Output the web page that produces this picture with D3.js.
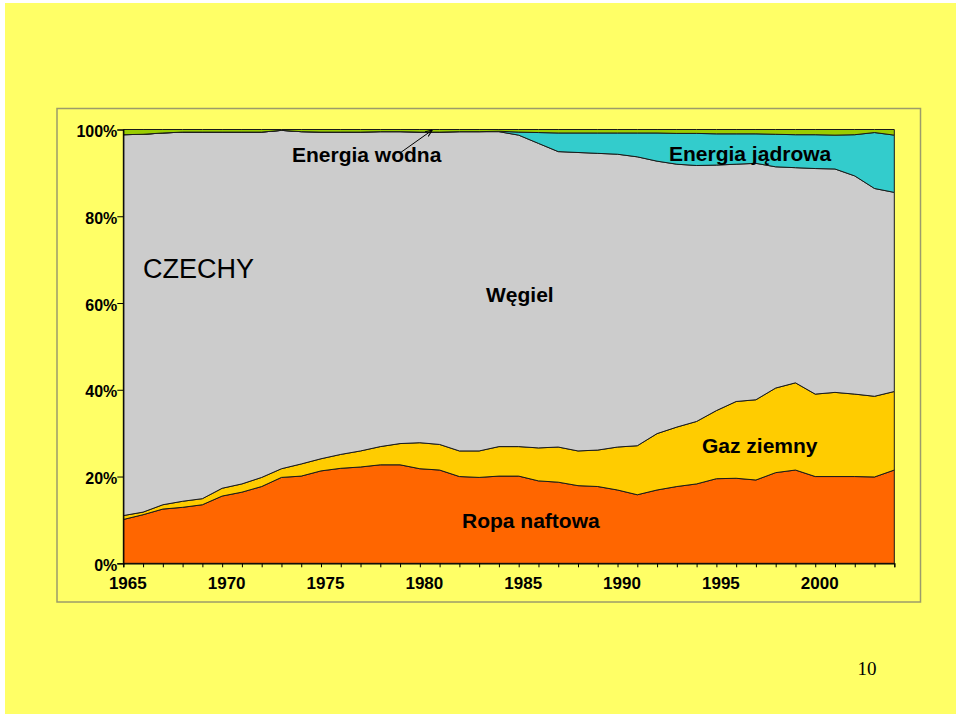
<!DOCTYPE html>
<html>
<head>
<meta charset="utf-8">
<script src="https://cdn.jsdelivr.net/npm/d3@7"></script>
<style>
  body { margin: 0; background: #ffffff; }
  text { font-family: Arial, "Liberation Sans", sans-serif; }
</style>
</head>
<body>
<div class="chart"></div>
<script>
// years 1965 - 2004
const years = [1965,1966,1967,1968,1969,1970,1971,1972,1973,1974,
               1975,1976,1977,1978,1979,1980,1981,1982,1983,1984,
               1985,1986,1987,1988,1989,1990,1991,1992,1993,1994,
               1995,1996,1997,1998,1999,2000,2001,2002,2003,2004];

// share of primary energy, %
const ropa = [10.1,11.2,12.5,12.9,13.5,15.5,16.4,17.7,19.8,20.1,
              21.3,21.9,22.2,22.7,22.7,21.8,21.5,20.0,19.8,20.1,
              20.1,19.0,18.7,17.9,17.7,16.9,15.8,16.9,17.7,18.3,
              19.5,19.6,19.2,20.9,21.5,20.0,20.0,20.0,19.9,21.5];
const gaz = [0.9,0.6,1.0,1.4,1.4,1.8,1.9,2.1,2.0,2.8,
             2.8,3.2,3.7,4.2,4.9,6.0,5.9,5.9,6.1,6.8,
             6.8,7.6,8.1,8.0,8.4,9.9,11.3,13.0,13.7,14.4,
             15.7,17.7,18.5,19.5,20.1,19.0,19.4,19.0,18.6,18.1];
const wegiel = [87.8,87.1,85.7,85.1,84.5,82.1,81.1,79.6,78.0,76.6,
                75.3,74.3,73.5,72.6,71.9,71.6,72.0,73.6,73.6,72.6,
                71.8,70.2,68.1,68.8,68.4,67.5,66.6,62.8,60.6,59.0,
                56.6,54.7,54.5,51.0,49.6,52.0,51.5,50.3,47.9,45.9];
const jadrowa = [0,0,0,0,0,0,0,0,0,0,
                 0,0,0,0,0,0,0,0,0,0.1,
                 0.7,2.5,4.3,4.5,4.7,4.9,5.5,6.5,7.1,7.4,
                 7.2,7.0,6.8,7.5,7.6,7.8,7.8,9.5,12.9,13.2];
const wodna = [1.2,1.1,0.8,0.6,0.6,0.6,0.6,0.6,0.2,0.5,
               0.6,0.6,0.6,0.5,0.5,0.6,0.6,0.5,0.5,0.4,
               0.6,0.7,0.8,0.8,0.8,0.8,0.8,0.8,0.9,0.9,
               1.0,1.0,1.0,1.1,1.2,1.2,1.3,1.2,0.7,1.3];

const yearLabels = ["1965","1970","1975","1980","1985","1990","1995","2000"];
const pctTicks = [0, 20, 40, 60, 80, 100];

const keys = ["ropa", "gaz", "wegiel", "jadrowa", "wodna"];
const colors = {ropa:"#FF6600", gaz:"#FFCC00", wegiel:"#CCCCCC", jadrowa:"#33CCCC", wodna:"#99CC00"};

const table = years.map((y, i) => ({
    year: y, ropa: ropa[i], gaz: gaz[i], wegiel: wegiel[i], jadrowa: jadrowa[i], wodna: wodna[i]
}));

const W = 960, H = 716;
const plot = {left: 123.3, right: 894.3, top: 129.5, bottom: 563.3};

const svg = d3.select('.chart')
    .append('svg')
    .attr('width', W)
    .attr('height', H);

// slide background
svg.append('rect')
    .attr('x', 5).attr('y', 3)
    .attr('width', 951).attr('height', 711)
    .attr('fill', '#FFFF66');

// chart frame
svg.append('rect')
    .attr('x', 57).attr('y', 108.5)
    .attr('width', 863.5).attr('height', 493.5)
    .attr('fill', '#FFFF66')
    .attr('stroke', '#9C9C6A')
    .attr('stroke-width', 1.5);

const xScale = d3.scaleLinear()
    .domain([years[0], years[years.length - 1]])
    .range([plot.left, plot.right]);

const yScale = d3.scaleLinear()
    .domain([0, 100])
    .range([plot.bottom, plot.top]);

const stacked = d3.stack().keys(keys)(table);

const area = d3.area()
    .x(d => xScale(d.data.year))
    .y0(d => yScale(d[0]))
    .y1(d => yScale(d[1]));

svg.append('g')
    .selectAll('path')
    .data(stacked)
    .join('path')
    .attr('d', area)
    .attr('fill', d => colors[d.key])
    .attr('stroke', '#1a1a1a')
    .attr('stroke-width', 1)
    .attr('stroke-linejoin', 'round');

// x axis
const xAxis = d3.axisBottom(xScale)
    .tickValues(years)
    .tickSize(4)
    .tickFormat(d => yearLabels.includes(String(d)) ? String(d) : "");

const gx = svg.append('g')
    .attr('class', 'axis x-axis')
    .attr('transform', 'translate(0,' + plot.bottom + ')')
    .call(xAxis);
gx.select('.domain').attr('stroke', '#000').attr('stroke-width', 1.2);
gx.selectAll('.tick line').attr('stroke', '#000');
gx.selectAll('.tick text')
    .attr('dx', 4)
    .attr('y', 13)
    .attr('dy', '0.72em')
    .style('font-size', '17px')
    .style('font-weight', 'bold')
    .attr('fill', '#000');

// y axis
const yAxis = d3.axisLeft(yScale)
    .tickValues(pctTicks)
    .tickSize(6)
    .tickFormat(d => d + "%");

const gy = svg.append('g')
    .attr('class', 'axis y-axis')
    .attr('transform', 'translate(' + plot.left + ',0)')
    .call(yAxis);
gy.select('.domain').attr('stroke', '#000').attr('stroke-width', 1.2);
gy.selectAll('.tick line').attr('stroke', '#000');
gy.selectAll('.tick text')
    .attr('x', -6)
    .attr('dy', '0.45em')
    .style('font-size', '16px')
    .style('font-weight', 'bold')
    .attr('fill', '#000');

// labels
const labels = [
    {t: "Energia wodna", x: 292, y: 162, s: 21, w: 'bold'},
    {t: "Energia jądrowa", x: 669, y: 161, s: 21, w: 'bold'},
    {t: "CZECHY", x: 143, y: 278, s: 27, w: 'normal'},
    {t: "Węgiel", x: 486, y: 302, s: 21, w: 'bold'},
    {t: "Gaz ziemny", x: 702, y: 453, s: 21, w: 'bold'},
    {t: "Ropa naftowa", x: 462, y: 528, s: 21, w: 'bold'}
];
svg.append('g')
    .selectAll('text')
    .data(labels)
    .join('text')
    .attr('x', d => d.x)
    .attr('y', d => d.y)
    .style('font-size', d => d.s + 'px')
    .style('font-weight', d => d.w)
    .attr('fill', '#000')
    .text(d => d.t);

// arrow to the hydro band
svg.append('defs').append('marker')
    .attr('id', 'arr')
    .attr('viewBox', '0 0 10 10')
    .attr('refX', 9).attr('refY', 5)
    .attr('markerWidth', 7).attr('markerHeight', 7)
    .attr('orient', 'auto')
    .append('path')
    .attr('d', 'M0,1 L10,5 L0,9')
    .attr('fill', 'none')
    .attr('stroke', '#000')
    .attr('stroke-width', 1.5);

svg.append('line')
    .attr('x1', 400).attr('y1', 153)
    .attr('x2', xScale(1980.6)).attr('y2', yScale(100) + 1)
    .attr('stroke', '#000')
    .attr('stroke-width', 1)
    .attr('marker-end', 'url(#arr)');

// page number
svg.append('text')
    .attr('x', 867).attr('y', 675)
    .attr('text-anchor', 'middle')
    .style('font-family', '"Liberation Serif", "Times New Roman", serif')
    .style('font-size', '19px')
    .attr('fill', '#000')
    .text("10");
</script>
</body>
</html>
